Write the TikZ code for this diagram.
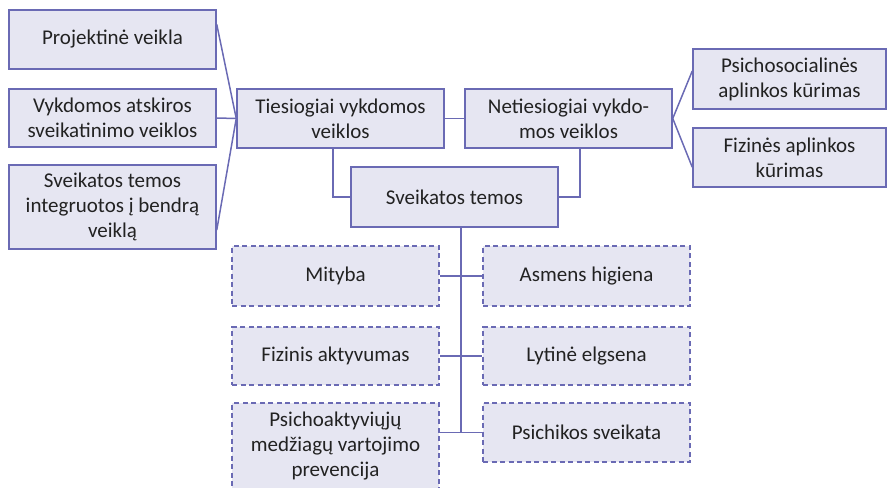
\documentclass[tikz,border=0pt]{standalone}
\usepackage{fontspec}
\setmainfont{Carlito}
\usetikzlibrary{calc}
\definecolor{boxfill}{HTML}{E6E6F2}
\definecolor{boxline}{HTML}{6A6AB4}
\definecolor{txt}{HTML}{222222}
\tikzset{
  box/.style={draw=boxline, fill=boxfill, line width=1.5pt, rectangle, align=center,
    inner sep=2pt, text=txt, font=\fontsize{21}{25}\selectfont, minimum width=207pt},
  dbox/.style={box, dash pattern=on 5pt off 3.5pt},
  link/.style={draw=boxline, line width=1.5pt}
}
\begin{document}
\begin{tikzpicture}[x=1pt,y=-1pt]
\useasboundingbox (0,0) rectangle (896,487);
\clip (0,0) rectangle (896,487);
% left column
\node[box, minimum height=59pt] (p1) at (112.5,39.5) {Projektinė veikla};
\node[box, minimum height=58pt] (p2) at (112.5,118) {Vykdomos atskiros\\sveikatinimo veiklos};
\node[box, minimum height=84pt] (p3) at (112.5,207) {Sveikatos temos\\integruotos į bendrą\\veiklą};
% middle row
\node[box, minimum height=59pt] (t) at (340.5,118.5) {Tiesiogiai vykdomos\\veiklos};
\node[box, minimum height=59pt] (n) at (568.5,118.5) {Netiesiogiai vykdo-\\mos veiklos};
% right column
\node[box, minimum width=193pt, minimum height=60pt] (r1) at (789.5,79) {Psichosocialinės\\aplinkos kūrimas};
\node[box, minimum width=193pt, minimum height=59pt] (r2) at (789.5,157.5) {Fizinės aplinkos\\kūrimas};
% topics
\node[box, minimum height=60pt] (s) at (454.5,197) {Sveikatos temos};
\node[dbox, minimum height=60pt] (d1) at (335.5,276) {Mityba};
\node[dbox, minimum height=60pt] (d2) at (586.5,276) {Asmens higiena};
\node[dbox, minimum height=58pt] (d3) at (335.5,356) {Fizinis aktyvumas};
\node[dbox, minimum height=58pt] (d4) at (586.5,356) {Lytinė elgsena};
\node[dbox, minimum height=86pt] (d5) at (335.5,446) {Psichoaktyviųjų\\medžiagų vartojimo\\prevencija};
\node[dbox, minimum height=59pt] (d6) at (586.5,432.5) {Psichikos sveikata};
% connectors
\coordinate (tw) at (t.west);
\draw[link] ($(p1.north east)!0.25!(p1.south east)$) -- (tw);
\draw[link] (p2.east) -- (tw);
\draw[link] ($(p3.north east)!0.77!(p3.south east)$) -- (tw);
\draw[link] (t.east) -- (n.west);
\coordinate (ne) at (n.east);
\draw[link] (ne) -- ($(r1.north west)!0.37!(r1.south west)$);
\draw[link] (ne) -- ($(r2.north west)!0.66!(r2.south west)$);
\draw[link] ([xshift=-7.5pt]t.south) |- (s.west);
\draw[link] ([xshift=11.5pt]n.south) |- (s.east);
\coordinate (bus) at ([xshift=6.5pt]s.south);
\draw[link] (bus) -- (bus |- d6.west);
\draw[link] (d1.east) -- (d2.west);
\draw[link] (d3.east) -- (d4.west);
\draw[link] (d5.east |- d6.west) -- (d6.west);
\end{tikzpicture}
\end{document}
